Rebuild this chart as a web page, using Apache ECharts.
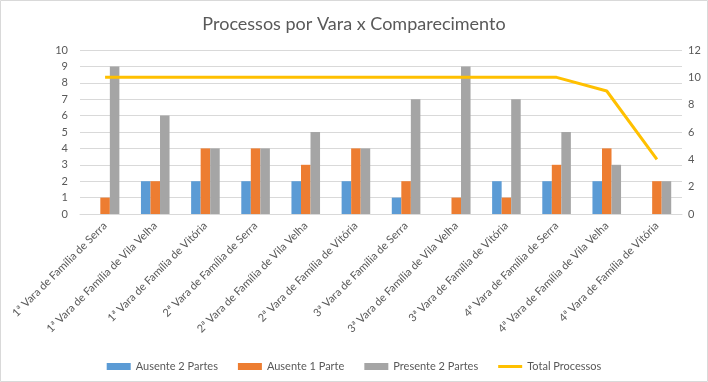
<!DOCTYPE html>
<html><head><meta charset="utf-8">
<script src="https://cdn.jsdelivr.net/npm/echarts@6/dist/echarts.min.js"></script>
<style>html,body{margin:0;padding:0;background:#fff}#c{width:708px;height:382px}</style>
</head><body><div id="c"></div>
<script>
var categories = ['1ª Vara de Família de Serra','1ª Vara de Família de Vila Velha','1ª Vara de Família de Vitória','2ª Vara de Família de Serra','2ª Vara de Família de Vila Velha','2ª Vara de Família de Vitória','3ª Vara de Família de Serra','3ª Vara de Família de Vila Velha','3ª Vara de Família de Vitória','4ª Vara de Família de Serra','4ª Vara de Família de Vila Velha','4ª Vara de Família de Vitória'];
var ausente2 = [0,2,2,2,2,2,1,0,2,2,2,0];
var ausente1 = [1,2,4,4,3,4,2,1,1,3,4,2];
var presente2 = [9,6,4,4,5,4,7,9,7,5,3,2];
var total = [10,10,10,10,10,10,10,10,10,10,9,4];
var leftTicks = [0,10,1];
var rightTicks = [0,12,2];
var font = 'Lato, "Open Sans", sans-serif';
var chart = echarts.init(document.getElementById('c'));
chart.setOption({
  animation:false,
  textStyle:{fontFamily:font},
  graphic:[{type:'rect',shape:{x:0.5,y:0.5,width:707,height:381},style:{fill:'none',stroke:'#d9d9d9',lineWidth:1},silent:true}],
  title:{text:'Processos por Vara x Comparecimento',left:'center',top:10,textStyle:{fontSize:18,fontWeight:'normal',color:'#595959',fontFamily:font}},
  legend:{bottom:5,left:'center',itemGap:20,itemWidth:24,itemHeight:7,textStyle:{color:'#595959',fontSize:11,fontFamily:font},
    data:[{name:'Ausente 2 Partes',icon:'rect'},{name:'Ausente 1 Parte',icon:'rect'},{name:'Presente 2 Partes',icon:'rect'},{name:'Total Processos',icon:'path://M0,0H24V3H0Z'}]},
  grid:{left:80,right:26,top:50,bottom:168},
  xAxis:{type:'category',data:categories,axisLine:{lineStyle:{color:'#d9d9d9'}},axisTick:{show:false},
    axisLabel:{rotate:45,interval:0,color:'#595959',fontSize:11,fontFamily:font,margin:10}},
  yAxis:[
    {type:'value',min:leftTicks[0],max:leftTicks[1],interval:leftTicks[2],axisLine:{show:false},axisTick:{show:false},
      axisLabel:{color:'#595959',fontSize:11,margin:12},splitLine:{lineStyle:{color:'#d9d9d9'}}},
    {type:'value',min:rightTicks[0],max:rightTicks[1],interval:rightTicks[2],axisLine:{show:false},axisTick:{show:false},
      axisLabel:{color:'#595959',fontSize:11,margin:6},splitLine:{show:false}}
  ],
  series:[
    {name:'Ausente 2 Partes',type:'bar',data:ausente2,itemStyle:{color:'#5B9BD5'},barGap:'0%',barCategoryGap:'43%'},
    {name:'Ausente 1 Parte',type:'bar',data:ausente1,itemStyle:{color:'#ED7D31'},barGap:'0%',barCategoryGap:'43%'},
    {name:'Presente 2 Partes',type:'bar',data:presente2,itemStyle:{color:'#A5A5A5'},barGap:'0%',barCategoryGap:'43%'},
    {name:'Total Processos',type:'line',yAxisIndex:1,data:total,symbol:'none',lineStyle:{color:'#FFC000',width:3},itemStyle:{color:'#FFC000'}}
  ]
});
</script></body></html>
